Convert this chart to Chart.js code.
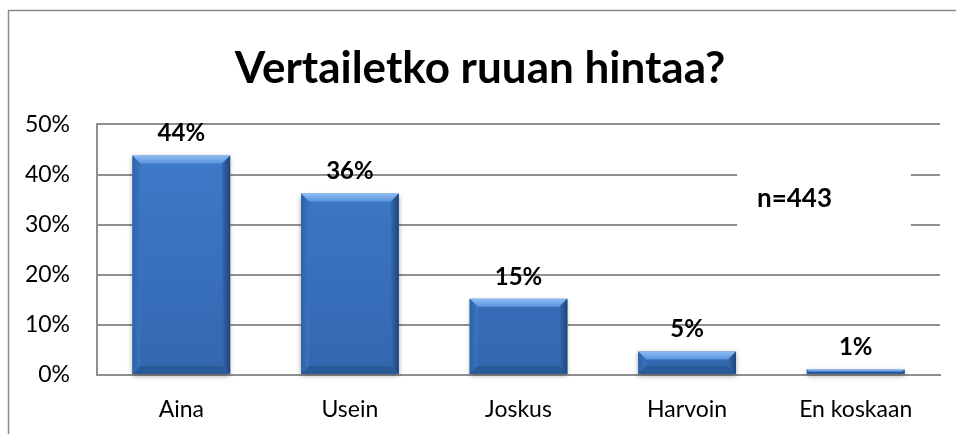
<!DOCTYPE html>
<html>
<head>
<meta charset="utf-8">
<script src="https://cdn.jsdelivr.net/npm/chart.js@4.4.1/dist/chart.umd.min.js"></script>
<style>
  html, body { margin: 0; padding: 0; background: #fff; }
  #wrap { width: 956px; height: 434px; }
</style>
</head>
<body>
<div id="wrap"><canvas id="chart" width="956" height="434"></canvas></div>
<script>
const TITLE = "Vertailetko ruuan hintaa?";
const CATEGORIES = ["Aina", "Usein", "Joskus", "Harvoin", "En koskaan"];
const VALUES = [43.8, 36.2, 15.2, 4.7, 1.1];
const VALUE_LABELS = ["44%", "36%", "15%", "5%", "1%"];
const Y_TICKS = [0, 10, 20, 30, 40, 50];
const NOTE = "n=443";

const FONT = "Lato, 'Open Sans', sans-serif";
const GRID = "#8f8f8f";

// outer frame of the chart object
const framePlugin = {
  id: "frame",
  beforeDraw(chart) {
    const ctx = chart.ctx;
    ctx.save();
    ctx.fillStyle = "#fff";
    ctx.fillRect(0, 0, chart.width, chart.height);
    ctx.strokeStyle = "#8a8a8a";
    ctx.lineWidth = 1.5;
    ctx.strokeRect(8.5, 10.5, chart.width + 20, chart.height + 20);
    ctx.restore();
  },
};

// bevel look of the bars
const bevelPlugin = {
  id: "bevel",
  beforeDatasetsDraw(chart) {
    const ctx = chart.ctx;
    ctx.save();
    ctx.shadowColor = "rgba(0,0,0,0.35)";
    ctx.shadowBlur = 5;
    ctx.shadowOffsetY = 2;
    chart.getDatasetMeta(0).data.forEach((bar) => {
      const { x, y, base, width } = bar.getProps(["x", "y", "base", "width"], true);
      ctx.fillStyle = "#fff";
      ctx.fillRect(x - width / 2, y, width, base - y);
    });
    ctx.restore();
  },
  afterDatasetsDraw(chart) {
    const ctx = chart.ctx;
    ctx.save();
    chart.getDatasetMeta(0).data.forEach((bar) => {
      const { x, y, base, width } = bar.getProps(["x", "y", "base", "width"], true);
      const l = x - width / 2;
      const r = x + width / 2;
      const h = base - y;
      const b = Math.min(8, h / 2);
      // top
      let g = ctx.createLinearGradient(0, y, 0, y + b);
      g.addColorStop(0, "#8dbdf3");
      g.addColorStop(1, "#5b95de");
      ctx.fillStyle = g;
      ctx.beginPath();
      ctx.moveTo(l, y); ctx.lineTo(r, y); ctx.lineTo(r - b, y + b); ctx.lineTo(l + b, y + b);
      ctx.closePath(); ctx.fill();
      // left
      g = ctx.createLinearGradient(l, 0, l + b, 0);
      g.addColorStop(0, "#2f62a6");
      g.addColorStop(1, "#3a74c0");
      ctx.fillStyle = g;
      ctx.beginPath();
      ctx.moveTo(l, y); ctx.lineTo(l + b, y + b); ctx.lineTo(l + b, base - b); ctx.lineTo(l, base);
      ctx.closePath(); ctx.fill();
      // right
      g = ctx.createLinearGradient(r - b, 0, r, 0);
      g.addColorStop(0, "#3569b0");
      g.addColorStop(1, "#1f4478");
      ctx.fillStyle = g;
      ctx.beginPath();
      ctx.moveTo(r, y); ctx.lineTo(r - b, y + b); ctx.lineTo(r - b, base - b); ctx.lineTo(r, base);
      ctx.closePath(); ctx.fill();
      // bottom
      ctx.fillStyle = "#2b5a98";
      ctx.beginPath();
      ctx.moveTo(l, base); ctx.lineTo(l + b, base - b); ctx.lineTo(r - b, base - b); ctx.lineTo(r, base);
      ctx.closePath(); ctx.fill();
    });
    ctx.restore();
  },
};

// value labels above bars
const valueLabelPlugin = {
  id: "valueLabels",
  afterDatasetsDraw(chart) {
    const ctx = chart.ctx;
    ctx.save();
    ctx.font = `bold 24px ${FONT}`;
    ctx.fillStyle = "#000";
    ctx.textAlign = "center";
    ctx.textBaseline = "middle";
    chart.getDatasetMeta(0).data.forEach((bar, i) => {
      ctx.fillText(VALUE_LABELS[i], bar.x, bar.y - 22);
    });
    ctx.restore();
  },
};

// "n=443" text box
const notePlugin = {
  id: "note",
  afterDraw(chart) {
    const ctx = chart.ctx;
    const area = chart.chartArea;
    const yScale = chart.scales.y;
    const top = yScale.getPixelForValue(44);
    const bottom = yScale.getPixelForValue(26);
    ctx.save();
    ctx.fillStyle = "#fff";
    ctx.fillRect(area.right - 203, top, 174, bottom - top);
    ctx.font = `bold 26px ${FONT}`;
    ctx.fillStyle = "#000";
    ctx.textAlign = "left";
    ctx.textBaseline = "middle";
    ctx.fillText(NOTE, area.right - 183, (top + bottom) / 2 - 1);
    ctx.restore();
  },
};

new Chart(document.getElementById("chart"), {
  type: "bar",
  data: {
    labels: CATEGORIES,
    datasets: [
      {
        data: VALUES,
        backgroundColor: (c) => {
          const area = c.chart.chartArea;
          if (!area) return "#3a75c4";
          const g = c.chart.ctx.createLinearGradient(0, area.top, 0, area.bottom);
          g.addColorStop(0, "#3f7dcc");
          g.addColorStop(1, "#3367b0");
          return g;
        },
        borderWidth: 0,
        barPercentage: 0.58,
        categoryPercentage: 1,
      },
    ],
  },
  options: {
    responsive: false,
    animation: false,
    layout: { padding: { top: 0, left: 20, right: 16, bottom: 0 } },
    plugins: {
      legend: { display: false },
      tooltip: { enabled: false },
      title: {
        display: true,
        text: TITLE,
        color: "#000",
        font: { family: FONT, size: 44, weight: "bold", lineHeight: 1.1 },
        padding: { top: 45, bottom: 31 },
      },
    },
    scales: {
      x: {
        afterFit: (s) => { s.height = 59; },
        grid: { display: false, drawTicks: false },
        border: { display: true, color: GRID, width: 2 },
        ticks: { color: "#000", font: { family: FONT, size: 23 }, padding: 21 },
      },
      y: {
        min: 0,
        max: 50,
        afterFit: (s) => { s.width = 77; },
        afterBuildTicks: (s) => { s.ticks = Y_TICKS.map((v) => ({ value: v })); },
        grid: { color: GRID, lineWidth: 2, drawTicks: false },
        border: { display: true, color: GRID, width: 2 },
        ticks: {
          color: "#000",
          font: { family: FONT, size: 23 },
          padding: 27,
          callback: (v) => `${v}%`,
        },
      },
    },
  },
  plugins: [framePlugin, bevelPlugin, valueLabelPlugin, notePlugin],
});
</script>
</body>
</html>
